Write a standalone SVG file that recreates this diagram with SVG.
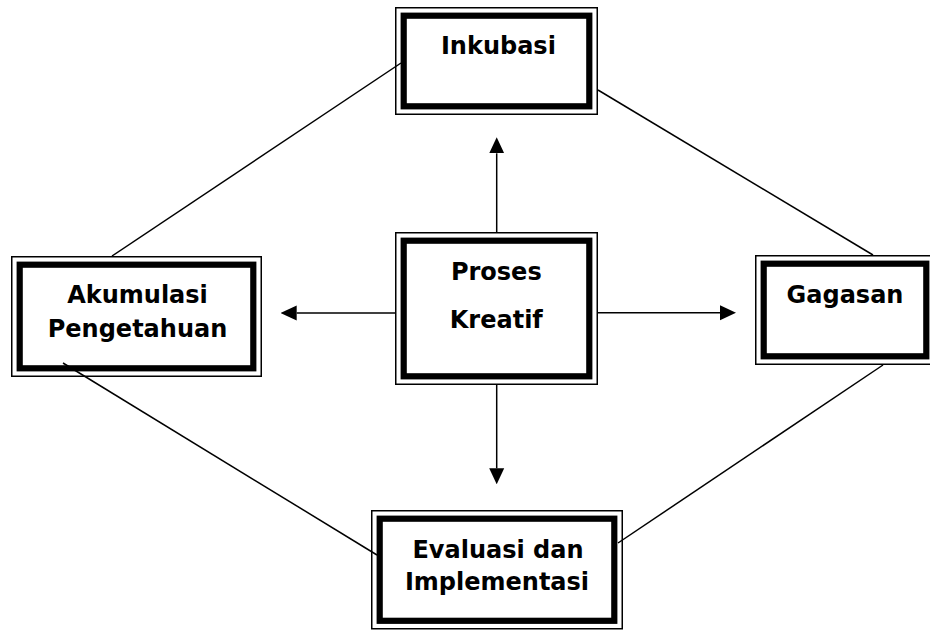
<svg xmlns="http://www.w3.org/2000/svg" width="930" height="630" viewBox="0 0 930 630">
<defs>
<marker id="ah" markerUnits="userSpaceOnUse" markerWidth="16" markerHeight="16" refX="0" refY="8" orient="auto" viewBox="0 0 16 16">
<path d="M0,0.5 L16,8 L0,15.5 Z" fill="#000"/>
</marker>
<style>
.o{fill:none;stroke:#000;stroke-width:1.5}
.t{fill:none;stroke:#000;stroke-width:6.2}
.bg{fill:#fff;stroke:none}
.lbl{font-family:"DejaVu Sans","Verdana",sans-serif;font-weight:bold;font-size:24px;fill:#000;text-anchor:middle}
.c{fill:none;stroke:#000;stroke-width:1.5}
</style>
</defs>
<rect width="930" height="630" fill="#fff"/>
<g id="connectors">
<line class="c" x1="401" y1="63" x2="112" y2="256"/>
<line class="c" x1="598" y1="90" x2="873" y2="255"/>
<line class="c" x1="63" y1="363" x2="377" y2="555"/>
<line class="c" x1="883" y1="365" x2="618" y2="543"/>
<line class="c" x1="496.7" y1="232" x2="496.7" y2="153.3" marker-end="url(#ah)"/>
<line class="c" x1="496.7" y1="385" x2="496.7" y2="468.3" marker-end="url(#ah)"/>
<line class="c" x1="395" y1="313" x2="296.7" y2="313" marker-end="url(#ah)"/>
<line class="c" x1="598" y1="312.7" x2="720" y2="312.7" marker-end="url(#ah)"/>
</g>
<g id="inkubasi">
<rect class="o" x="395.75" y="7.75" width="201.5" height="106.5"/>
<rect class="t" x="403.7" y="15.7" width="185.6" height="90.6"/>
<text class="lbl" x="498.4" y="54.3">Inkubasi</text>
</g>
<g id="proses-kreatif">
<rect class="bg" x="395" y="232" width="203" height="153"/>
<rect class="o" x="395.75" y="232.75" width="201.5" height="151.5"/>
<rect class="t" x="403.7" y="240.7" width="185.6" height="135.6"/>
<text class="lbl" x="496.3" y="280">Proses</text>
<text class="lbl" x="496.3" y="328">Kreatif</text>
</g>
<g id="akumulasi">
<rect class="o" x="11.75" y="256.75" width="249.5" height="119.5"/>
<rect class="t" x="19.7" y="264.7" width="233.6" height="103.6"/>
<text class="lbl" x="137.5" y="303.3">Akumulasi</text>
<text class="lbl" x="137.5" y="336.7">Pengetahuan</text>
</g>
<g id="gagasan">
<rect class="o" x="755.75" y="255.75" width="175.5" height="108.5"/>
<rect class="t" x="763.7" y="263.7" width="162.6" height="92.6"/>
<text class="lbl" x="845" y="302.7">Gagasan</text>
</g>
<g id="evaluasi">
<rect class="o" x="371.75" y="510.75" width="250.5" height="118"/>
<rect class="t" x="379.7" y="518.7" width="234.6" height="102.1"/>
<text class="lbl" x="498" y="558.3">Evaluasi dan</text>
<text class="lbl" x="497" y="590">Implementasi</text>
</g>
</svg>
